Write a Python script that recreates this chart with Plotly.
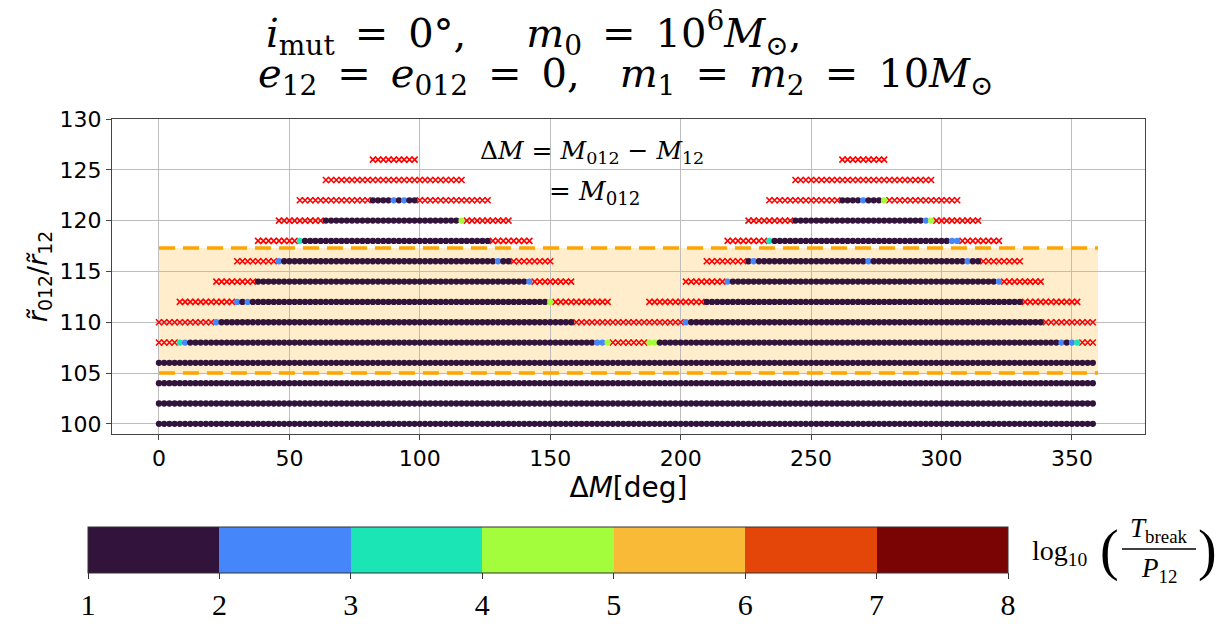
import plotly.graph_objects as go

# ---------------- data ----------------
DM_STEP = 2  # ΔM grid spacing [deg]
D, B, T, G, X = 1.5, 2.5, 3.5, 4.5, "x"   # log10(Tbreak/P12) classes; X = unstable

row_r = [100, 102, 104, 106, 108, 110, 112, 114, 116, 118, 120, 122, 124, 126]
row_segments = {
    100: [(0, 358, D)],
    102: [(0, 358, D)],
    104: [(0, 358, D)],
    106: [(0, 358, D)],
    108: [(0, 6, X), (8, 8, T), (10, 10, B), (12, 166, D), (168, 170, B), (172, 172, G),
          (174, 186, X), (188, 190, G), (192, 344, D), (346, 346, B), (348, 348, D),
          (350, 350, B), (352, 352, T), (354, 358, X)],
    110: [(0, 20, X), (22, 22, B), (24, 158, D), (160, 200, X), (202, 202, B),
          (204, 338, D), (340, 358, X)],
    112: [(8, 28, X), (30, 30, B), (32, 32, D), (34, 34, B), (36, 148, D), (150, 150, G),
          (152, 172, X), (188, 208, X), (210, 330, D), (332, 352, X)],
    114: [(22, 36, X), (38, 140, D), (142, 142, B), (144, 158, X), (202, 216, X),
          (218, 218, B), (220, 320, D), (322, 322, B), (324, 338, X)],
    116: [(30, 44, X), (46, 46, B), (48, 128, D), (130, 130, B), (132, 134, D),
          (136, 150, X), (210, 224, X), (226, 226, D), (228, 228, B), (230, 270, D),
          (272, 272, B), (274, 308, D), (310, 310, B), (312, 314, D), (316, 330, X)],
    118: [(38, 52, X), (54, 54, T), (56, 126, D), (128, 142, X), (218, 232, X),
          (234, 234, T), (236, 302, D), (304, 306, B), (308, 322, X)],
    120: [(46, 62, X), (64, 114, D), (116, 116, G), (118, 134, X), (226, 242, X),
          (244, 292, D), (294, 294, B), (296, 296, G), (298, 314, X)],
    122: [(54, 80, X), (82, 88, D), (90, 90, B), (92, 92, D), (94, 94, B), (96, 98, D),
          (100, 126, X), (234, 260, X), (262, 268, D), (270, 270, B), (272, 276, D),
          (278, 278, G), (280, 306, X)],
    124: [(64, 116, X), (244, 296, X)],
    126: [(82, 98, X), (262, 278, X)],
}
band_r = [105.0, 117.3]      # shaded band in r012/r12
band_dm = [0, 360]
bin_colors = ["#32133b", "#4686fb", "#1be5b5", "#a3fd3d", "#f9ba38", "#e4460a", "#7a0403"]
cbar_ticks = [1, 2, 3, 4, 5, 6, 7, 8]
x_ticks = [0, 50, 100, 150, 200, 250, 300, 350]
y_ticks = [100, 105, 110, 115, 120, 125, 130]

# expand segments
sx, sy, sv, ux, uy = [], [], [], [], []
for r in row_r:
    for a, b, v in row_segments[r]:
        for m in range(a, b + 1, DM_STEP):
            if v == X:
                ux.append(m); uy.append(r)
            else:
                sx.append(m); sy.append(r); sv.append(v)

# ---------------- layout helpers ----------------
W, H = 1228, 624
L, R, TOP, BOT = 112, 1145, 119, 434
def px(xp): return (xp - L) / (R - L)
def py(yp): return (BOT - yp) / (BOT - TOP)

n = len(bin_colors)
cscale = []
for i, c in enumerate(bin_colors):
    cscale.append([i / n, c]); cscale.append([(i + 1) / n, c])

SERIF = "DejaVu Serif"
CBSERIF = "Liberation Serif"
SANS = "DejaVu Sans"

fig = go.Figure()
fig.add_trace(go.Scatter(
    x=ux, y=uy, mode="markers", showlegend=False, hoverinfo="skip",
    marker=dict(symbol="x-thin", size=6, line=dict(color="red", width=1.6), color="red")))
fig.add_trace(go.Scatter(
    x=sx, y=sy, mode="markers", showlegend=False,
    marker=dict(symbol="circle", size=6.3, color=sv, colorscale=cscale, cmin=1, cmax=8,
                line=dict(width=0),
                colorbar=dict(orientation="h", x=px(88), xanchor="left", y=py(527),
                              yanchor="top", lenmode="pixels", len=920,
                              thicknessmode="pixels", thickness=46, xpad=0, ypad=0,
                              outlinecolor="#333", outlinewidth=1,
                              tickvals=cbar_ticks, ticks="outside", ticklen=6,
                              tickcolor="#333",
                              tickfont=dict(family=CBSERIF, size=30, color="black")))))

shapes = [
    dict(type="rect", xref="x", yref="y", x0=band_dm[0], x1=band_dm[1], y0=band_r[0], y1=band_r[1],
         fillcolor="rgba(255,165,0,0.2)", line=dict(width=0), layer="below"),
]
for yv in band_r:
    shapes.append(dict(type="line", xref="x", yref="y", x0=band_dm[0], x1=band_dm[1], y0=yv, y1=yv,
                       line=dict(color="orange", width=3.5, dash="16px,8px"), layer="between"))
# fraction bar in colorbar label
shapes.append(dict(type="line", xref="paper", yref="paper", x0=px(1122), x1=px(1196),
                   y0=py(549), y1=py(549), line=dict(color="black", width=1.3)))

ann = []
def A(text, x, y, size, family=SERIF, xanchor="left", yanchor="middle"):
    ann.append(dict(text=text, x=px(x), y=py(y), xref="paper", yref="paper", showarrow=False,
                    xanchor=xanchor, yanchor=yanchor, font=dict(family=family, size=size, color="black")))

eq = "\u2002=\u2002"
A("<i>i</i><sub>mut</sub>" + eq + "0°," + "\u2003\u2002" + "<i>m</i><sub>0</sub>" + eq + "10<sup>6</sup><i>M</i><sub>⊙</sub>,", 264, 33, 40)
A("<i>e</i><sub>12</sub>" + eq + "<i>e</i><sub>012</sub>" + eq + "0," + "\u2003" * 1 + "<i>m</i><sub>1</sub>" + eq + "<i>m</i><sub>2</sub>" + eq + "10<i>M</i><sub>⊙</sub>", 256, 76, 40)
A("Δ<i>M</i> = <i>M</i><sub>012</sub> − <i>M</i><sub>12</sub>", 478, 152, 25)
A("= <i>M</i><sub>012</sub>", 547, 192, 26)
A("log<sub>10</sub>", 1030, 552, 28, family=CBSERIF)
A("(", 1098, 550, 56, family=CBSERIF)
A(")", 1196, 550, 56, family=CBSERIF)
A("<i>T</i><sub>break</sub>", 1159, 530, 27, family=CBSERIF, xanchor="center")
A("<i>P</i><sub>12</sub>", 1159, 570, 27, family=CBSERIF, xanchor="center")

axis_common = dict(showgrid=True, gridcolor="#bdbdbd", gridwidth=1, showline=True, mirror=True,
                   linecolor="#444", linewidth=1, ticks="outside", ticklen=5, tickcolor="#444",
                   tickfont=dict(family=SANS, size=22, color="black"), zeroline=False)
fig.update_layout(
    width=W, height=H, margin=dict(l=L, r=W - R, t=TOP, b=H - BOT, autoexpand=False),
    paper_bgcolor="white", plot_bgcolor="white",
    shapes=shapes, annotations=ann,
    xaxis=dict(range=[-18, 378], tickvals=x_ticks, **axis_common,
               title=dict(text="Δ<i>M</i>[deg]", font=dict(family=SANS, size=28, color="black"), standoff=6)),
    yaxis=dict(range=[99, 130], tickvals=y_ticks, **axis_common,
               title=dict(text="<i>r̃</i><sub>012</sub>/<i>r̃</i><sub>12</sub>",
                          font=dict(family=SANS, size=27, color="black"), standoff=4)),
)
fig.write_html("out.html", config={"displayModeBar": False},
               post_script="document.body.style.margin='0';document.body.style.padding='0';")
